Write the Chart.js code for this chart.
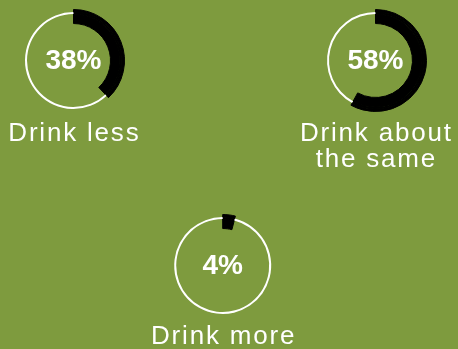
<!DOCTYPE html>
<html>
<head>
<meta charset="utf-8">
<script src="https://cdn.jsdelivr.net/npm/chart.js@4/dist/chart.umd.min.js"></script>
<style>
    html, body { margin: 0; padding: 0; }
    body { width: 458px; height: 349px; background: #7e9b3e; position: relative; overflow: hidden; font-family: "Liberation Sans", Arial, sans-serif; }
    .ring { position: absolute; left: 0; top: 0; width: 458px; height: 349px; }
    .label { position: absolute; width: 200px; text-align: center; color: #fff; font-size: 26px; line-height: 26px; letter-spacing: 1.8px; white-space: nowrap; }
</style>
</head>
<body>
<script>
const categories = ['Drink less', 'Drink about the same', 'Drink more'];
const labelLines = [['Drink less'], ['Drink about', 'the same'], ['Drink more']];
const shares = [38, 58, 4];

// where each ring sits on the page
const layout = [
    { cx: 73.5, cy: 60.5, labelTop: 118.6 },
    { cx: 375.5, cy: 60.5, labelTop: 118.6 },
    { cx: 222.7, cy: 265.5, labelTop: 321.6 }
];

const W = 458, H = 349, R = 51;
let charts = {};

const centerText = {
    id: 'centerText',
    afterDatasetsDraw(chart) {
        const arc = chart.getDatasetMeta(0).data[0];
        const ctx = chart.ctx;
        ctx.save();
        ctx.fillStyle = '#fff';
        ctx.font = 'bold 28px "Liberation Sans", Arial, sans-serif';
        ctx.textAlign = 'center';
        ctx.textBaseline = 'alphabetic';
        ctx.fillText(chart.data.datasets[0].data[0] + '%', arc.x, arc.y + 8.5);
        ctx.restore();
    }
};

function ringDataset(value, restColor, weight) {
    return {
        data: [value, 100 - value],
        backgroundColor: ['#000', restColor],
        borderColor: '#000',
        borderWidth: c => c.dataIndex === 0 ? 1 : 0,
        weight: weight
    };
}

categories.forEach((name, i) => {
    const pos = layout[i];
    const wrap = document.createElement('div');
    wrap.className = 'ring';
    const canvas = document.createElement('canvas');
    canvas.id = 'ring' + i;
    wrap.appendChild(canvas);
    document.body.appendChild(wrap);

    // outer edge of the black band, the thin white track, then the inner band
    charts[canvas.id] = new Chart(canvas.getContext('2d'), {
        type: 'doughnut',
        data: {
            labels: [name, ''],
            datasets: [
                ringDataset(shares[i], 'transparent', 2.5),
                ringDataset(shares[i], '#fff', 2),
                ringDataset(shares[i], 'transparent', 9.5)
            ]
        },
        options: {
            responsive: true, maintainAspectRatio: false,
            animation: false, events: [],
            radius: R, cutout: '72.5%',
            layout: { padding: { left: pos.cx - R, right: W - pos.cx - R, top: pos.cy - R, bottom: H - pos.cy - R } },
            plugins: { legend: { display: false }, tooltip: { enabled: false } }
        },
        plugins: [centerText]
    });

    const label = document.createElement('div');
    label.className = 'label';
    label.style.left = (pos.cx - 100 + 0.9) + 'px';
    label.style.top = pos.labelTop + 'px';
    label.innerHTML = labelLines[i].join('<br>');
    document.body.appendChild(label);
});
</script>
</body>
</html>
